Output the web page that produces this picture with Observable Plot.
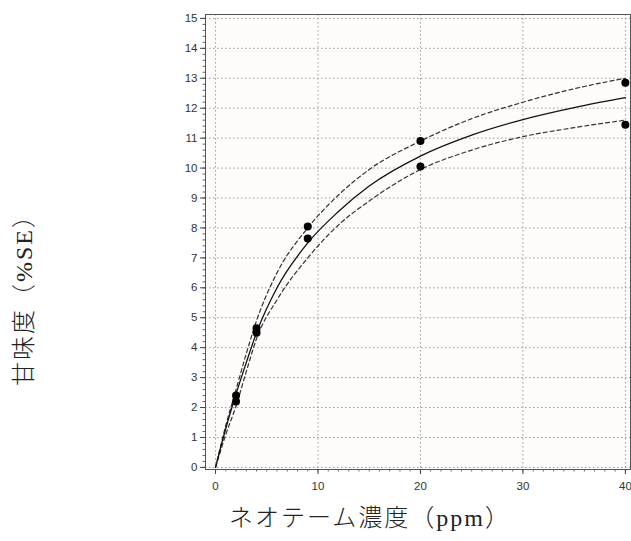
<!DOCTYPE html>
<html><head><meta charset="utf-8">
<script src="https://cdn.jsdelivr.net/npm/d3@7"></script>
<script src="https://cdn.jsdelivr.net/npm/@observablehq/plot@0.6"></script>
<style>body{margin:0;background:#fff}</style></head>
<body><div id="chart"></div>
<script>
// Observed points
const concPts = [2, 2, 4, 4, 9, 9, 20, 20, 40, 40];
const sweetPts = [2.4, 2.2, 4.65, 4.5, 8.05, 7.65, 10.9, 10.05, 12.85, 11.45];
// Curves
const curveX = [0, 1, 2, 3, 4, 6, 9, 12, 15, 20, 25, 30, 35, 40];
const fitMid = [0, 1.3, 2.45, 3.5, 4.5, 6.0, 7.5, 8.55, 9.4, 10.4, 11.1, 11.62, 12.02, 12.35];
const fitUpper = [0, 1.4, 2.6, 3.8, 4.9, 6.5, 8.0, 9.1, 9.95, 10.9, 11.65, 12.2, 12.65, 13.0];
const fitLower = [0, 1.1, 2.05, 3.2, 4.3, 5.6, 7.0, 8.1, 8.9, 9.95, 10.6, 11.05, 11.35, 11.6];
// Ticks and labels
const xTicks = [0, 10, 20, 30, 40];
const yTicks = d3.range(0, 16, 1);
const xMinor = d3.range(0, 41, 1);
const yMinor = d3.range(0, 15.01, 0.2);
const xLabel = "ネオテーム濃度（ppm）";
const yLabel = "甘味度（%SE）";

const pts = concPts.map((x, i) => ({x, y: sweetPts[i]}));
const mk = arr => curveX.map((x, i) => ({x, y: arr[i]}));

const labelFont = "Liberation Serif, 'Noto Sans CJK JP', serif";
const chart = Plot.plot({
  width: 631, height: 541,
  marginLeft: 205, marginRight: 1, marginTop: 14, marginBottom: 72,
  x: {domain: [-0.98, 40.5]},
  y: {domain: [-0.07, 15.13]},
  style: {fontFamily: "Liberation Sans, Arial, sans-serif", fontSize: "11px", color: "#333", background: "#fff"},
  marks: [
    Plot.frame({fill: "#fefbfb", stroke: "none"}),
    Plot.gridY(yTicks, {stroke: "#999", strokeOpacity: 1, strokeDasharray: "1.5,2.5"}),
    Plot.gridX(xTicks, {stroke: "#999", strokeOpacity: 1, strokeDasharray: "1.5,2.5"}),
    Plot.frame({stroke: "#555"}),
    Plot.axisX(xMinor, {tickSize: 2.5, text: null, label: null, stroke: "#666"}),
    Plot.axisY(yMinor, {tickSize: 2.5, text: null, label: null, stroke: "#666"}),
    Plot.axisX(xTicks, {tickSize: 5, tickPadding: 7, label: null, stroke: "#444", fill: "#333", fontSize: 11.5}),
    Plot.axisY(yTicks, {tickSize: 5, tickPadding: 3, label: null, stroke: "#444", fill: "#333", fontSize: 11.5}),
    Plot.line(mk(fitUpper), {x: "x", y: "y", curve: "monotone-x", stroke: "#333", strokeWidth: 1.2, strokeDasharray: "4,3"}),
    Plot.line(mk(fitLower), {x: "x", y: "y", curve: "monotone-x", stroke: "#333", strokeWidth: 1.2, strokeDasharray: "4,3"}),
    Plot.line(mk(fitMid), {x: "x", y: "y", curve: "monotone-x", stroke: "#111", strokeWidth: 1.3}),
    Plot.dot(pts, {x: "x", y: "y", r: 4, fill: "#000", stroke: "none"}),
    Plot.text([xLabel], {frameAnchor: "bottom", textAnchor: "middle", dx: -48, dy: 56, fontSize: 24, fontWeight: 300, fontFamily: labelFont, fill: "#222"}),
    Plot.text([yLabel], {frameAnchor: "left", textAnchor: "middle", rotate: -90, dx: -181, dy: 52, fontSize: 24, fontWeight: 300, fontFamily: labelFont, fill: "#222"})
  ]
});
chart.querySelectorAll("text").forEach(t => {
  if (t.textContent === xLabel) t.style.letterSpacing = "2px";
  if (t.textContent === yLabel) t.style.letterSpacing = "2px";
});
document.getElementById("chart").appendChild(chart);
</script>
</body></html>
